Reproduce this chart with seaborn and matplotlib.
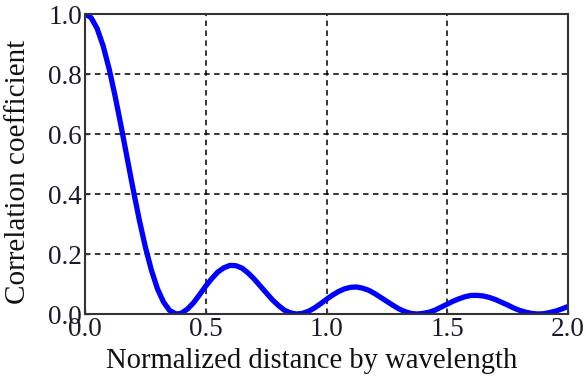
import matplotlib
matplotlib.use("Agg")
import matplotlib.pyplot as plt
import seaborn as sns
import pandas as pd

# Normalized separation (distance / wavelength)
distance = [0.000, 0.025, 0.050, 0.075, 0.100, 0.125, 0.150, 0.175, 0.200, 0.225,
            0.250, 0.275, 0.300, 0.325, 0.350, 0.375, 0.383, 0.400, 0.425, 0.450,
            0.475, 0.500, 0.525, 0.550, 0.575, 0.600, 0.625, 0.650, 0.675, 0.700,
            0.725, 0.750, 0.775, 0.800, 0.825, 0.850, 0.875, 0.900, 0.925, 0.950,
            0.975, 1.000, 1.025, 1.050, 1.075, 1.100, 1.125, 1.150, 1.175, 1.200,
            1.225, 1.250, 1.275, 1.300, 1.325, 1.350, 1.375, 1.400, 1.425, 1.450,
            1.475, 1.500, 1.525, 1.550, 1.575, 1.600, 1.625, 1.650, 1.675, 1.700,
            1.725, 1.750, 1.775, 1.800, 1.825, 1.850, 1.875, 1.900, 1.925, 1.950,
            1.975, 2.000]
# Correlation coefficient at each separation
correlation = [1.000, 0.988, 0.952, 0.894, 0.817, 0.725, 0.624, 0.518, 0.413, 0.313,
               0.223, 0.146, 0.084, 0.040, 0.012, 0.001, 0.000, 0.003, 0.017, 0.038,
               0.065, 0.093, 0.118, 0.140, 0.154, 0.162, 0.161, 0.153, 0.137, 0.117,
               0.094, 0.071, 0.048, 0.029, 0.013, 0.004, 0.000, 0.002, 0.009, 0.020,
               0.034, 0.049, 0.063, 0.075, 0.084, 0.089, 0.090, 0.086, 0.079, 0.068,
               0.055, 0.042, 0.029, 0.017, 0.008, 0.002, 0.000, 0.002, 0.006, 0.013,
               0.023, 0.033, 0.043, 0.051, 0.058, 0.062, 0.062, 0.060, 0.055, 0.048,
               0.039, 0.030, 0.020, 0.012, 0.006, 0.002, 0.000, 0.001, 0.005, 0.010,
               0.017, 0.025]

x_ticks = [0.0, 0.5, 1.0, 1.5, 2.0]
x_tick_labels = ["0.0", "0.5", "1.0", "1.5", "2.0"]
y_ticks = [0.0, 0.2, 0.4, 0.6, 0.8, 1.0]
y_tick_labels = ["0.0", "0.2", "0.4", "0.6", "0.8", "1.0"]

sns.set_style("ticks")
plt.rcParams["font.family"] = ["Liberation Serif", "DejaVu Serif"]

df = pd.DataFrame({"distance": distance, "correlation": correlation})

fig = plt.figure(figsize=(5.86, 3.78), dpi=100)
ax = fig.add_axes([85 / 586, 64 / 378, 483 / 586, 300 / 378])

ax.set_axisbelow(True)
ax.grid(True, color="black", linestyle=(0, (3.6, 2.9)), linewidth=1.1)

sns.lineplot(data=df, x="distance", y="correlation", ax=ax,
             color="#0000ff", linewidth=3.8, sort=False,
             solid_joinstyle="round", solid_capstyle="round")

ax.set_xlim(0, 2)
ax.set_ylim(0, 1)
ax.set_xticks(x_ticks)
ax.set_xticklabels(x_tick_labels)
ax.set_yticks(y_ticks)
ax.set_yticklabels(y_tick_labels)
ax.tick_params(axis="both", direction="in", length=3, width=1.0,
               color="#333333", labelsize=19.5, labelcolor="#1a1a2a")
ax.tick_params(axis="x", pad=2)
ax.tick_params(axis="y", pad=2)

for side in ["left", "right", "top", "bottom"]:
    ax.spines[side].set_visible(True)
    ax.spines[side].set_color("#333333")
    ax.spines[side].set_linewidth(1.5)

ax.set_xlabel("")
ax.set_ylabel("")
fig.text(312 / 586, 10 / 378, "Normalized distance by wavelength",
         ha="center", va="baseline", fontsize=20.6, color="#111111")
fig.text(18 / 586, 1 - 172 / 378, "Correlation coefficient",
         ha="center", va="center", rotation=90, fontsize=21, color="#111111")

fig.savefig("out.png", dpi=100)
